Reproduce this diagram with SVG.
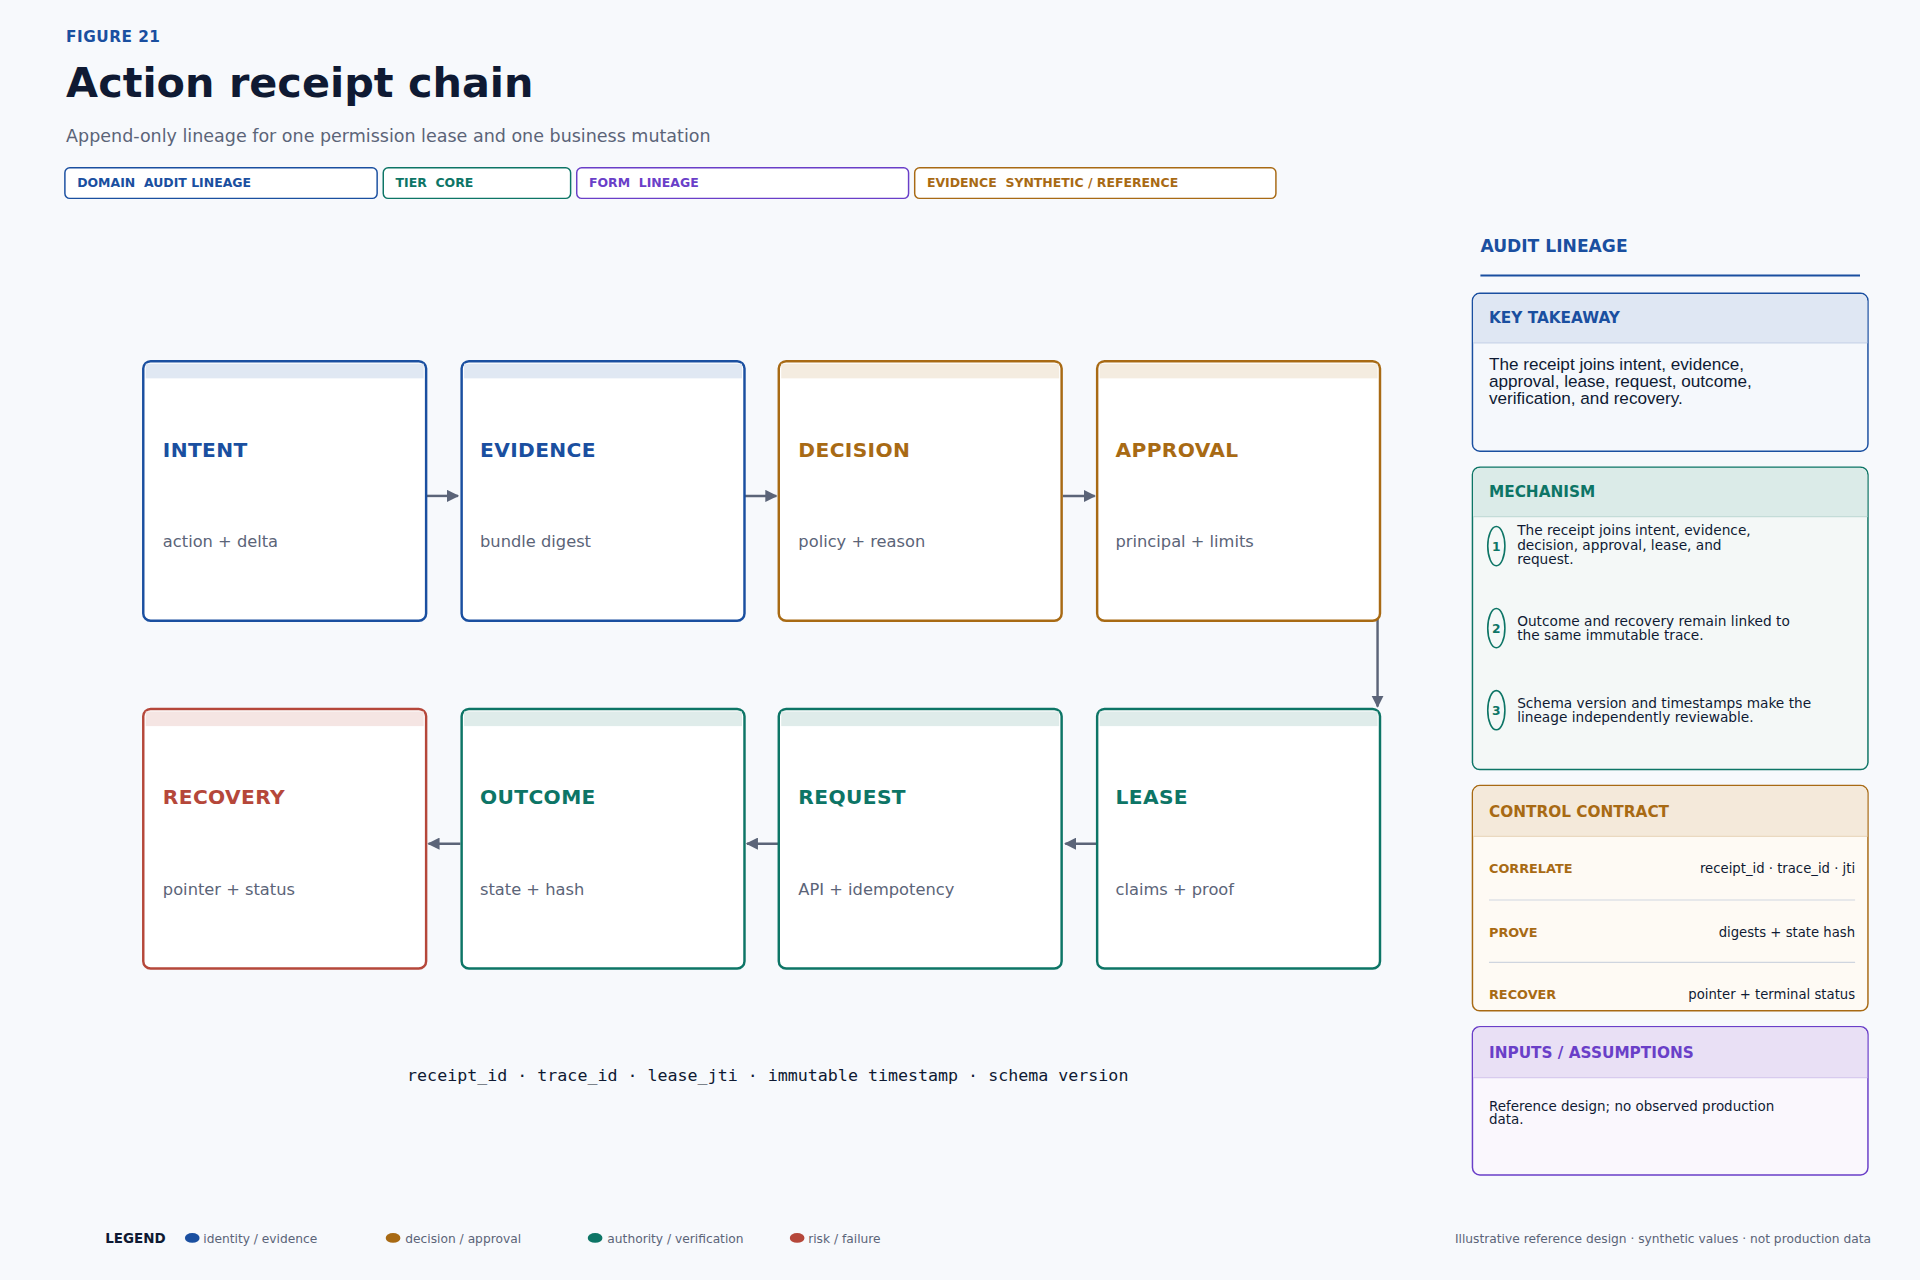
<svg xmlns="http://www.w3.org/2000/svg" width="1920" height="1280" viewBox="0 0 1920 1280">
<defs>
<marker id="ah" viewBox="0 0 10 10" refX="9" refY="5" markerWidth="10" markerHeight="10" markerUnits="userSpaceOnUse" orient="auto"><path d="M0,0 L10,5 L0,10 z" fill="#5b6478"/></marker>
<style>
text{font-family:"DejaVu Sans","Noto Sans",sans-serif}
.pill{fill:#fff;stroke-width:1.2}
.pt{font-size:10.2px;font-weight:bold;white-space:pre}
.nb{fill:#fff;stroke-width:2}
.nt{font-size:16.5px;font-weight:bold;letter-spacing:0.3px}
.ns{font-size:13.3px;fill:#5b6478}
.conn{stroke:#5b6478;stroke-width:2;fill:none;marker-end:url(#ah)}
.ph{font-size:12.5px;font-weight:bold}
.sm{font-size:11.2px;fill:#0f1a33}
.lg{font-size:10px;fill:#5b6478}
.kt{font-family:"Liberation Sans",Arial,sans-serif;font-size:14px;fill:#0f1a33}
</style>
</defs>
<rect width="1920" height="1280" fill="#f7f9fc"/>
<g transform="scale(1.22449)">
<g id="header">
<text x="54" y="34" font-size="12.5" font-weight="bold" fill="#1a4fa0" letter-spacing="0.4">FIGURE 21</text>
<text x="54" y="79" font-size="33.8" font-weight="bold" fill="#0f1a33">Action receipt chain</text>
<text x="54" y="116" font-size="14.3" fill="#5b6478">Append-only lineage for one permission lease and one business mutation</text>
<rect class="pill" x="53" y="137" width="255" height="25" rx="4" stroke="#1a4fa0"/><text class="pt" x="63" y="153" fill="#1a4fa0">DOMAIN  AUDIT LINEAGE</text>
<rect class="pill" x="313" y="137" width="153" height="25" rx="4" stroke="#0d7566"/><text class="pt" x="323" y="153" fill="#0d7566">TIER  CORE</text>
<rect class="pill" x="471" y="137" width="271" height="25" rx="4" stroke="#6a3fc8"/><text class="pt" x="481" y="153" fill="#6a3fc8">FORM  LINEAGE</text>
<rect class="pill" x="747" y="137" width="295" height="25" rx="4" stroke="#a86a14"/><text class="pt" x="757" y="153" fill="#a86a14">EVIDENCE  SYNTHETIC / REFERENCE</text>
</g>
<g id="connectors">
<line class="conn" x1="348" y1="405" x2="374" y2="405"/>
<line class="conn" x1="608" y1="405" x2="634" y2="405"/>
<line class="conn" x1="868" y1="405" x2="894" y2="405"/>
<line class="conn" x1="1125" y1="408" x2="1125" y2="577"/>
<line class="conn" x1="896" y1="689" x2="870" y2="689"/>
<line class="conn" x1="636" y1="689" x2="610" y2="689"/>
<line class="conn" x1="376" y1="689" x2="350" y2="689"/>
</g>
<g id="n-intent"><rect class="nb" x="117" y="295" width="231" height="212" rx="6" stroke="#1a4fa0"/><rect x="119" y="297" width="227" height="12" fill="#e0e8f3"/><text class="nt" x="133" y="373" fill="#1a4fa0">INTENT</text><text class="ns" x="133" y="447">action + delta</text></g>
<g id="n-evidence"><rect class="nb" x="377" y="295" width="231" height="212" rx="6" stroke="#1a4fa0"/><rect x="379" y="297" width="227" height="12" fill="#e0e8f3"/><text class="nt" x="392" y="373" fill="#1a4fa0">EVIDENCE</text><text class="ns" x="392" y="447">bundle digest</text></g>
<g id="n-decision"><rect class="nb" x="636" y="295" width="231" height="212" rx="6" stroke="#a86a14"/><rect x="638" y="297" width="227" height="12" fill="#f4ece0"/><text class="nt" x="652" y="373" fill="#a86a14">DECISION</text><text class="ns" x="652" y="447">policy + reason</text></g>
<g id="n-approval"><rect class="nb" x="896" y="295" width="231" height="212" rx="6" stroke="#a86a14"/><rect x="898" y="297" width="227" height="12" fill="#f4ece0"/><text class="nt" x="911" y="373" fill="#a86a14">APPROVAL</text><text class="ns" x="911" y="447">principal + limits</text></g>
<g id="n-recovery"><rect class="nb" x="117" y="579" width="231" height="212" rx="6" stroke="#b5473a"/><rect x="119" y="581" width="227" height="12" fill="#f5e5e3"/><text class="nt" x="133" y="657" fill="#b5473a">RECOVERY</text><text class="ns" x="133" y="731">pointer + status</text></g>
<g id="n-outcome"><rect class="nb" x="377" y="579" width="231" height="212" rx="6" stroke="#0d7566"/><rect x="379" y="581" width="227" height="12" fill="#dfecea"/><text class="nt" x="392" y="657" fill="#0d7566">OUTCOME</text><text class="ns" x="392" y="731">state + hash</text></g>
<g id="n-request"><rect class="nb" x="636" y="579" width="231" height="212" rx="6" stroke="#0d7566"/><rect x="638" y="581" width="227" height="12" fill="#dfecea"/><text class="nt" x="652" y="657" fill="#0d7566">REQUEST</text><text class="ns" x="652" y="731">API + idempotency</text></g>
<g id="n-lease"><rect class="nb" x="896" y="579" width="231" height="212" rx="6" stroke="#0d7566"/><rect x="898" y="581" width="227" height="12" fill="#dfecea"/><text class="nt" x="911" y="657" fill="#0d7566">LEASE</text><text class="ns" x="911" y="731">claims + proof</text></g>
<text x="627" y="883" text-anchor="middle" font-size="13.6" fill="#0f1a33" style="font-family:'DejaVu Sans Mono',monospace">receipt_id · trace_id · lease_jti · immutable timestamp · schema version</text>
<g id="sidebar">
<text x="1209" y="206" font-size="14" font-weight="bold" fill="#1a4fa0">AUDIT LINEAGE</text>
<line x1="1209" y1="225" x2="1519" y2="225" stroke="#1a4fa0" stroke-width="1.5"/>
<g id="p-key"><rect x="1202.5" y="239.5" width="323" height="129" rx="6" fill="#f5f8fc" stroke="#1a4fa0" stroke-width="1.2"/><path d="M1203 280 V246 a6 6 0 0 1 6 -6 H1519 a6 6 0 0 1 6 6 V280 z" fill="#dfe7f3"/><line x1="1203" y1="280" x2="1525" y2="280" stroke="#c8d4e8"/><text class="ph" x="1216" y="264" fill="#1a4fa0">KEY TAKEAWAY</text>
<text class="kt" x="1216" y="302">The receipt joins intent, evidence,</text><text class="kt" x="1216" y="316">approval, lease, request, outcome,</text><text class="kt" x="1216" y="330">verification, and recovery.</text></g>
<g id="p-mech"><rect x="1202.5" y="381.5" width="323" height="247" rx="6" fill="#f4f8f7" stroke="#0d7566" stroke-width="1.2"/><path d="M1203 422 V388 a6 6 0 0 1 6 -6 H1519 a6 6 0 0 1 6 6 V422 z" fill="#dbebe8"/><line x1="1203" y1="422" x2="1525" y2="422" stroke="#c4dcd8"/><text class="ph" x="1216" y="406" fill="#0d7566">MECHANISM</text>
<ellipse cx="1222" cy="446" rx="7" ry="16" fill="none" stroke="#0d7566" stroke-width="1.3"/><text x="1222" y="450" font-size="10" font-weight="bold" fill="#0d7566" text-anchor="middle">1</text>
<text class="sm" x="1239" y="437">The receipt joins intent, evidence,</text><text class="sm" x="1239" y="449">decision, approval, lease, and</text><text class="sm" x="1239" y="461">request.</text>
<ellipse cx="1222" cy="513" rx="7" ry="16" fill="none" stroke="#0d7566" stroke-width="1.3"/><text x="1222" y="517" font-size="10" font-weight="bold" fill="#0d7566" text-anchor="middle">2</text>
<text class="sm" x="1239" y="511">Outcome and recovery remain linked to</text><text class="sm" x="1239" y="523">the same immutable trace.</text>
<ellipse cx="1222" cy="580" rx="7" ry="16" fill="none" stroke="#0d7566" stroke-width="1.3"/><text x="1222" y="584" font-size="10" font-weight="bold" fill="#0d7566" text-anchor="middle">3</text>
<text class="sm" x="1239" y="578">Schema version and timestamps make the</text><text class="sm" x="1239" y="590">lineage independently reviewable.</text></g>
<g id="p-contract"><rect x="1202.5" y="641.5" width="323" height="184" rx="6" fill="#fefaf4" stroke="#a86a14" stroke-width="1.2"/><path d="M1203 683 V648 a6 6 0 0 1 6 -6 H1519 a6 6 0 0 1 6 6 V683 z" fill="#f4e9da"/><line x1="1203" y1="683" x2="1525" y2="683" stroke="#ead9c0"/><text class="ph" x="1216" y="667" fill="#a86a14">CONTROL CONTRACT</text>
<text x="1216" y="713" font-size="10.5" font-weight="bold" fill="#a86a14">CORRELATE</text><text x="1515" y="713" font-size="10.8" fill="#0f1a33" text-anchor="end">receipt_id · trace_id · jti</text>
<line x1="1216" y1="735" x2="1515" y2="735" stroke="#cfd5df"/>
<text x="1216" y="765" font-size="10.5" font-weight="bold" fill="#a86a14">PROVE</text><text x="1515" y="765" font-size="10.8" fill="#0f1a33" text-anchor="end">digests + state hash</text>
<line x1="1216" y1="786" x2="1515" y2="786" stroke="#cfd5df"/>
<text x="1216" y="816" font-size="10.5" font-weight="bold" fill="#a86a14">RECOVER</text><text x="1515" y="816" font-size="10.8" fill="#0f1a33" text-anchor="end">pointer + terminal status</text></g>
<g id="p-inputs"><rect x="1202.5" y="838.5" width="323" height="121" rx="6" fill="#faf7fd" stroke="#6a3fc8" stroke-width="1.2"/><path d="M1203 880 V845 a6 6 0 0 1 6 -6 H1519 a6 6 0 0 1 6 6 V880 z" fill="#e9e0f5"/><line x1="1203" y1="880" x2="1525" y2="880" stroke="#d8cbee"/><text class="ph" x="1216" y="864" fill="#6a3fc8">INPUTS / ASSUMPTIONS</text>
<text x="1216" y="907" font-size="11" fill="#0f1a33">Reference design; no observed production</text><text x="1216" y="918" font-size="11" fill="#0f1a33">data.</text></g>
</g>
<g id="legend">
<text x="86" y="1015" font-size="11" font-weight="bold" fill="#0f1a33">LEGEND</text>
<ellipse cx="157" cy="1011" rx="6" ry="4" fill="#1a4fa0"/><text class="lg" x="166" y="1015">identity / evidence</text>
<ellipse cx="321" cy="1011" rx="6" ry="4" fill="#a86a14"/><text class="lg" x="331" y="1015">decision / approval</text>
<ellipse cx="486" cy="1011" rx="6" ry="4" fill="#0d7566"/><text class="lg" x="496" y="1015">authority / verification</text>
<ellipse cx="651" cy="1011" rx="6" ry="4" fill="#b5473a"/><text class="lg" x="660" y="1015">risk / failure</text>
<text class="lg" x="1528" y="1015" text-anchor="end">Illustrative reference design · synthetic values · not production data</text>
</g>
</g>
</svg>
